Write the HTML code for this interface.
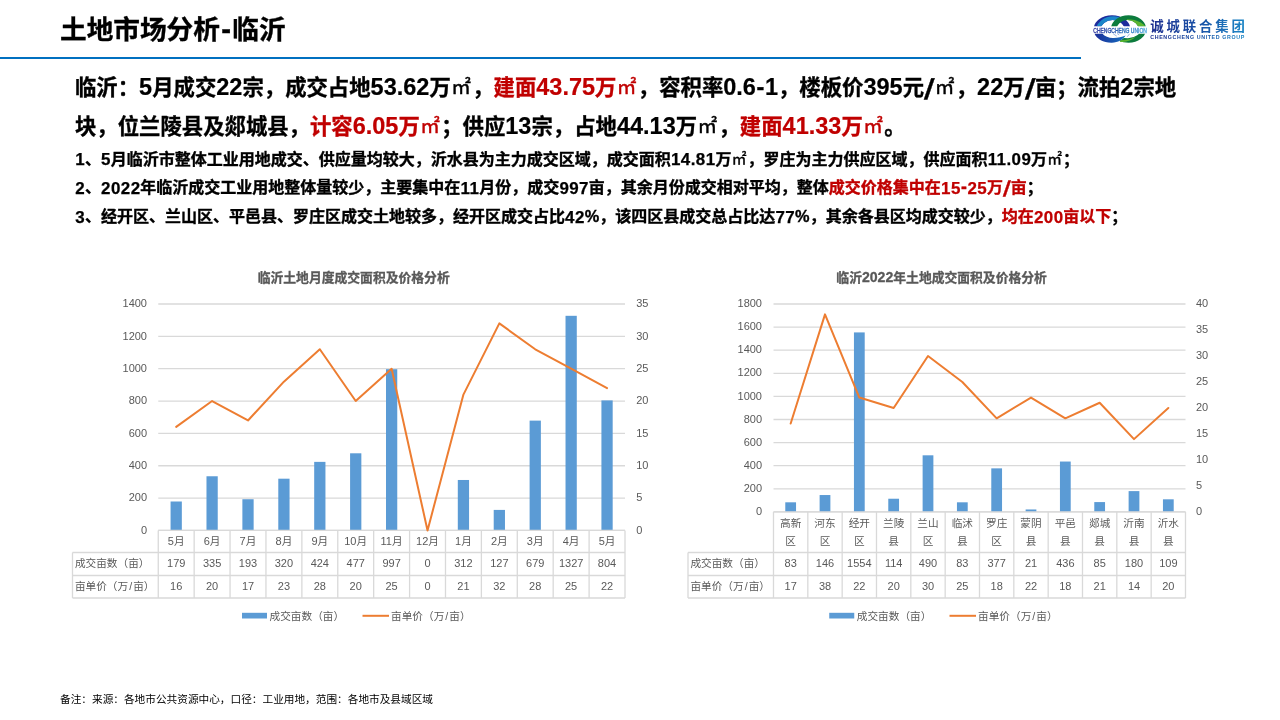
<!DOCTYPE html>
<html lang="zh-CN">
<head>
<meta charset="utf-8">
<title>土地市场分析-临沂</title>
<style>
html,body{margin:0;padding:0;background:#fff;}
body{width:1280px;height:720px;position:relative;overflow:hidden;font-family:"Liberation Sans", "Noto Sans CJK SC", sans-serif;color:#000;}
.abs{position:absolute;white-space:nowrap;}
#title{left:60px;top:9.6px;font-size:26.67px;font-weight:bold;line-height:40px;}
#rule{position:absolute;left:0;top:56.7px;width:1081px;height:2.1px;background:#0070c0;}
.big{left:75px;font-size:21.37px;font-weight:bold;line-height:30px;}
.sm{left:75px;font-size:16px;font-weight:bold;line-height:24px;}
.red{color:#c00000;}
.big,.sm,#title{-webkit-text-stroke:0.35px currentColor;}
.n,.h,.s{font-size:1.1em;line-height:0;}
.p{font-size:1.02em;line-height:0;margin:0 .004em;}
.sm .n{font-size:1.06em;letter-spacing:.026em;margin-left:.013em;margin-right:-.013em;-webkit-text-stroke:.25px currentColor;position:relative;top:.04em;}
.big .n{-webkit-text-stroke:.2px currentColor;}
.m{font-size:.92em;line-height:0;font-weight:normal;-webkit-text-stroke:0.45px currentColor;letter-spacing:.087em;position:relative;top:-.04em;left:.02em;}
.h{padding:0 .025em;}
#title .h{padding:0 .045em;}
.s{padding:0 .08em;display:inline-block;transform:translateY(.11em) skewX(-9deg) scale(1.2,1.22);}
#foot{left:60px;top:691px;font-size:10.67px;line-height:16px;}
svg{position:absolute;left:0;top:0;}
svg text{font-family:"Liberation Sans", "Noto Sans CJK SC", sans-serif;}
.g{stroke:#d9d9d9;stroke-width:1.3;}
.t{stroke:#d9d9d9;stroke-width:1.3;fill:none;}
.b{fill:#5b9bd5;}
.l{stroke:#ed7d31;stroke-width:2;fill:none;stroke-linejoin:round;stroke-linecap:round;}
.ax{font-size:10.67px;fill:#595959;}
.d{font-size:11px;}
.ti .d{font-size:14.1px;}
.ti{font-size:12.8px;font-weight:bold;fill:#595959;stroke:#595959;stroke-width:.3px;}
</style>
</head>
<body>
<div id="title" class="abs">土地市场分析<span class="h">-</span>临沂</div>
<div id="rule"></div>
<svg id="logo" width="170" height="40" viewBox="1088 8 170 40" style="left:1088px;top:8px">
<defs>
<linearGradient id="lg1" x1="0" x2="1" y1="0" y2="0"><stop offset="0" stop-color="#1c2c8e"/><stop offset="0.55" stop-color="#1a55a8"/><stop offset="1" stop-color="#1c86c6"/></linearGradient>
<linearGradient id="lg2" x1="0" x2="1" y1="0" y2="0"><stop offset="0" stop-color="#3338a0"/><stop offset="0.6" stop-color="#2a70bc"/><stop offset="1" stop-color="#4aa8e0"/></linearGradient>
<linearGradient id="lg3" x1="0" x2="1" y1="0" y2="0"><stop offset="0" stop-color="#1b2c98"/><stop offset="1" stop-color="#1670c0"/></linearGradient>
<clipPath id="cpT"><rect x="1088" y="8" width="70" height="18.2"/></clipPath>
<clipPath id="cpB"><rect x="1088" y="33.6" width="70" height="14"/></clipPath>
<clipPath id="cpL"><rect x="1088" y="8" width="31" height="18.2"/></clipPath>
<clipPath id="cpR"><rect x="1127" y="8" width="31" height="18.2"/></clipPath>
<clipPath id="cpG"><path d="M1119.6 48V40.6c2.4-.9 4.4-2.400 6-4.800L1126.600 33.600H1158V48Z"/></clipPath>
</defs>
<g clip-path="url(#cpT)">
<path fill="#1d2b9c" fill-rule="evenodd" d="M1093.700 29.300a18.300 14.100 0 1 0 36.600 0a18.300 14.100 0 1 0 -36.600 0Z M1100.600 30a12 10 0 1 0 24 0a12 10 0 1 0 -24 0Z"/>
<path fill="#1b86c9" fill-rule="evenodd" clip-path="url(#cpL)" d="M1096 30.600a17.600 14.300 0 1 0 35.200 0a17.600 14.300 0 1 0 -35.200 0Z M1100.600 30a12 10 0 1 0 24 0a12 10 0 1 0 -24 0Z"/>
<path fill="#0c7b3d" fill-rule="evenodd" d="M1110.900 29.300a17.600 14.100 0 1 0 35.200 0a17.600 14.100 0 1 0 -35.200 0Z M1116.400 30a11.200 10 0 1 0 22.400 0a11.200 10 0 1 0 -22.400 0Z"/>
<path fill="#5bb531" fill-rule="evenodd" clip-path="url(#cpR)" d="M1107.400 30.800a19.600 11.600 0 1 0 39.200 0a19.600 11.600 0 1 0 -39.200 0Z M1116.400 30a11.200 10 0 1 0 22.400 0a11.200 10 0 1 0 -22.400 0Z"/>
</g>
<g clip-path="url(#cpB)">
<g clip-path="url(#cpG)">
<path fill="#0c7b3d" fill-rule="evenodd" d="M1110.900 29.300a17.600 13.500 0 1 0 35.200 0a17.600 13.500 0 1 0 -35.200 0Z M1115 28.400a13 9.800 0 1 0 26 0a13 9.800 0 1 0 -26 0Z"/>
<path fill="#5bb531" d="M1119.600 40.200c5.400 0.400 11-0.800 16-3.400c-3.600 4-10 5.800-16 5Z"/>
</g>
<path fill="url(#lg3)" d="M1094.400 33.600h7.800c2.800 3.200 7 4.600 11.600 4.400c4.200-0.200 8.200-1 11.800-2.400c-2.600 4.200-7.400 7-13.800 7.200c-8 0.200-15-3.600-17.400-9.200Z"/>
</g>
<path d="M1113.200 33.800l3.600 2.400 M1117.200 33.600l2 1.400 M1129.600 33.800l-2.400 3" stroke="#5a86d0" stroke-width="0.6" fill="none"/>
<text x="1093.3" y="32.700" font-family="'Liberation Sans', sans-serif" font-weight="normal" stroke="url(#lg2)" stroke-width="0.35" font-size="6.800" fill="url(#lg2)" textLength="53.6" lengthAdjust="spacingAndGlyphs">CHENGCHENG UNION</text>
<text x="1150.200" y="30.700" font-family="'Liberation Sans', 'Noto Sans CJK SC', sans-serif" font-weight="bold" font-size="13.400" fill="url(#lg1)" textLength="94.8" lengthAdjust="spacing">诚城联合集团</text>
<text transform="translate(1150.3 39.1) scale(0.86 1)" font-family="'Liberation Sans', sans-serif" font-weight="bold" font-size="6.2" fill="url(#lg1)" textLength="109.2" lengthAdjust="spacing">CHENGCHENG UNITED GROUP</text>
</svg>

<div class="abs big" style="top:73px">临沂：<span class="n">5</span>月成交<span class="n">22</span>宗，成交占地<span class="n">53.62</span>万<span class="m">㎡</span>，<span class="red">建面<span class="n">43.75</span>万<span class="m">㎡</span></span>，容积率<span class="n">0.6</span><span class="h">-</span><span class="n">1</span>，楼板价<span class="n">395</span>元<span class="s">/</span><span class="m">㎡</span>，<span class="n">22</span>万<span class="s">/</span>亩；流拍<span class="n">2</span>宗地</div>
<div class="abs big" style="top:111.8px">块，位兰陵县及郯城县，<span class="red">计容<span class="n">6.05</span>万<span class="m">㎡</span></span>；供应<span class="n">13</span>宗，占地<span class="n">44.13</span>万<span class="m">㎡</span>，<span class="red">建面<span class="n">41.33</span>万<span class="m">㎡</span></span>。</div>
<div class="abs sm" style="top:147.5px"><span class="n">1</span>、<span class="n">5</span>月临沂市整体工业用地成交、供应量均较大，沂水县为主力成交区域，成交面积<span class="n">14.81</span>万<span class="m">㎡</span>，罗庄为主力供应区域，供应面积<span class="n">11.09</span>万<span class="m">㎡</span>；</div>
<div class="abs sm" style="top:176.2px"><span class="n">2</span>、<span class="n">2022</span>年临沂成交工业用地整体量较少，主要集中在<span class="n">11</span>月份，成交<span class="n">997</span>亩，其余月份成交相对平均，整体<span class="red">成交价格集中在<span class="n">15</span><span class="h">-</span><span class="n">25</span>万<span class="s">/</span>亩</span>；</div>
<div class="abs sm" style="top:205px"><span class="n">3</span>、经开区、兰山区、平邑县、罗庄区成交土地较多，经开区成交占比<span class="n">42</span><span class="p">%</span>，该四区县成交总占比达<span class="n">77</span><span class="p">%</span>，其余各县区均成交较少，<span class="red">均在<span class="n">200</span>亩以下</span>；</div>
<svg width="1280" height="720" viewBox="0 0 1280 720">
<line x1="158.25" y1="530.45" x2="625" y2="530.45" class="g"/>
<text x="147" y="534" class="ax d" text-anchor="end">0</text>
<line x1="158.25" y1="498.10" x2="625" y2="498.10" class="g"/>
<text x="147" y="501" class="ax d" text-anchor="end">200</text>
<line x1="158.25" y1="465.75" x2="625" y2="465.75" class="g"/>
<text x="147" y="469" class="ax d" text-anchor="end">400</text>
<line x1="158.25" y1="433.40" x2="625" y2="433.40" class="g"/>
<text x="147" y="437" class="ax d" text-anchor="end">600</text>
<line x1="158.25" y1="401.05" x2="625" y2="401.05" class="g"/>
<text x="147" y="404" class="ax d" text-anchor="end">800</text>
<line x1="158.25" y1="368.70" x2="625" y2="368.70" class="g"/>
<text x="147" y="372" class="ax d" text-anchor="end">1000</text>
<line x1="158.25" y1="336.35" x2="625" y2="336.35" class="g"/>
<text x="147" y="340" class="ax d" text-anchor="end">1200</text>
<line x1="158.25" y1="304.00" x2="625" y2="304.00" class="g"/>
<text x="147" y="307" class="ax d" text-anchor="end">1400</text>
<text x="636.25" y="534" class="ax d">0</text>
<text x="636.25" y="501" class="ax d">5</text>
<text x="636.25" y="469" class="ax d">10</text>
<text x="636.25" y="437" class="ax d">15</text>
<text x="636.25" y="404" class="ax d">20</text>
<text x="636.25" y="372" class="ax d">25</text>
<text x="636.25" y="340" class="ax d">30</text>
<text x="636.25" y="307" class="ax d">35</text>
<rect x="170.57" y="501.50" width="11.26" height="28.95" class="b"/>
<rect x="206.48" y="476.26" width="11.26" height="54.19" class="b"/>
<rect x="242.38" y="499.23" width="11.26" height="31.22" class="b"/>
<rect x="278.29" y="478.69" width="11.26" height="51.76" class="b"/>
<rect x="314.19" y="461.87" width="11.26" height="68.58" class="b"/>
<rect x="350.09" y="453.30" width="11.26" height="77.15" class="b"/>
<rect x="386.00" y="369.19" width="11.26" height="161.26" class="b"/>
<rect x="457.80" y="479.98" width="11.26" height="50.47" class="b"/>
<rect x="493.71" y="509.91" width="11.26" height="20.54" class="b"/>
<rect x="529.61" y="420.62" width="11.26" height="109.83" class="b"/>
<rect x="565.52" y="315.81" width="11.26" height="214.64" class="b"/>
<rect x="601.42" y="400.40" width="11.26" height="130.05" class="b"/>
<path class="t" d="M158.25 530.45H625 M72.5 552.5H625 M72.5 575.5H625 M72.5 598H625 M72.5 552.5V598"/>
<path class="t" d="M158.25 530.45V598 M194.15 530.45V598 M230.06 530.45V598 M265.96 530.45V598 M301.87 530.45V598 M337.77 530.45V598 M373.67 530.45V598 M409.58 530.45V598 M445.48 530.45V598 M481.38 530.45V598 M517.29 530.45V598 M553.19 530.45V598 M589.10 530.45V598 M625.00 530.45V598"/>
<polyline points="176.20,426.93 212.11,401.05 248.01,420.46 283.91,381.64 319.82,349.29 355.72,401.05 391.62,368.70 427.53,530.45 463.43,394.58 499.34,323.41 535.24,349.29 571.14,368.70 607.05,388.11" class="l"/>
<text x="176.20" y="545.05" class="ax" text-anchor="middle"><tspan class="d">5</tspan>月</text>
<text x="176.20" y="567.00" class="ax d" text-anchor="middle">179</text>
<text x="176.20" y="589.90" class="ax d" text-anchor="middle">16</text>
<text x="212.11" y="545.05" class="ax" text-anchor="middle"><tspan class="d">6</tspan>月</text>
<text x="212.11" y="567.00" class="ax d" text-anchor="middle">335</text>
<text x="212.11" y="589.90" class="ax d" text-anchor="middle">20</text>
<text x="248.01" y="545.05" class="ax" text-anchor="middle"><tspan class="d">7</tspan>月</text>
<text x="248.01" y="567.00" class="ax d" text-anchor="middle">193</text>
<text x="248.01" y="589.90" class="ax d" text-anchor="middle">17</text>
<text x="283.91" y="545.05" class="ax" text-anchor="middle"><tspan class="d">8</tspan>月</text>
<text x="283.91" y="567.00" class="ax d" text-anchor="middle">320</text>
<text x="283.91" y="589.90" class="ax d" text-anchor="middle">23</text>
<text x="319.82" y="545.05" class="ax" text-anchor="middle"><tspan class="d">9</tspan>月</text>
<text x="319.82" y="567.00" class="ax d" text-anchor="middle">424</text>
<text x="319.82" y="589.90" class="ax d" text-anchor="middle">28</text>
<text x="355.72" y="545.05" class="ax" text-anchor="middle"><tspan class="d">10</tspan>月</text>
<text x="355.72" y="567.00" class="ax d" text-anchor="middle">477</text>
<text x="355.72" y="589.90" class="ax d" text-anchor="middle">20</text>
<text x="391.62" y="545.05" class="ax" text-anchor="middle"><tspan class="d">11</tspan>月</text>
<text x="391.62" y="567.00" class="ax d" text-anchor="middle">997</text>
<text x="391.62" y="589.90" class="ax d" text-anchor="middle">25</text>
<text x="427.53" y="545.05" class="ax" text-anchor="middle"><tspan class="d">12</tspan>月</text>
<text x="427.53" y="567.00" class="ax d" text-anchor="middle">0</text>
<text x="427.53" y="589.90" class="ax d" text-anchor="middle">0</text>
<text x="463.43" y="545.05" class="ax" text-anchor="middle"><tspan class="d">1</tspan>月</text>
<text x="463.43" y="567.00" class="ax d" text-anchor="middle">312</text>
<text x="463.43" y="589.90" class="ax d" text-anchor="middle">21</text>
<text x="499.34" y="545.05" class="ax" text-anchor="middle"><tspan class="d">2</tspan>月</text>
<text x="499.34" y="567.00" class="ax d" text-anchor="middle">127</text>
<text x="499.34" y="589.90" class="ax d" text-anchor="middle">32</text>
<text x="535.24" y="545.05" class="ax" text-anchor="middle"><tspan class="d">3</tspan>月</text>
<text x="535.24" y="567.00" class="ax d" text-anchor="middle">679</text>
<text x="535.24" y="589.90" class="ax d" text-anchor="middle">28</text>
<text x="571.14" y="545.05" class="ax" text-anchor="middle"><tspan class="d">4</tspan>月</text>
<text x="571.14" y="567.00" class="ax d" text-anchor="middle">1327</text>
<text x="571.14" y="589.90" class="ax d" text-anchor="middle">25</text>
<text x="607.05" y="545.05" class="ax" text-anchor="middle"><tspan class="d">5</tspan>月</text>
<text x="607.05" y="567.00" class="ax d" text-anchor="middle">804</text>
<text x="607.05" y="589.90" class="ax d" text-anchor="middle">22</text>
<text x="74.9" y="566.90" class="ax">成交亩数（亩）</text>
<text x="74.9" y="589.90" class="ax">亩单价（万<tspan dx="1">/</tspan><tspan dx="1">亩</tspan>）</text>
<text x="353.7" y="282" class="ti" text-anchor="middle">临沂土地月度成交面积及价格分析</text>
<rect x="242" y="612.8" width="25" height="5.7" class="b"/>
<text x="269.5" y="619.9" class="ax">成交亩数（亩）</text>
<line x1="362.5" y1="615.8" x2="389.0" y2="615.8" class="l" style="stroke-linecap:butt"/>
<text x="391.0" y="619.9" class="ax">亩单价（万<tspan dx="1">/</tspan><tspan dx="1">亩</tspan>）</text>
<line x1="773.5" y1="511.90" x2="1185.5" y2="511.90" class="g"/>
<text x="762" y="515" class="ax d" text-anchor="end">0</text>
<line x1="773.5" y1="488.80" x2="1185.5" y2="488.80" class="g"/>
<text x="762" y="492" class="ax d" text-anchor="end">200</text>
<line x1="773.5" y1="465.70" x2="1185.5" y2="465.70" class="g"/>
<text x="762" y="469" class="ax d" text-anchor="end">400</text>
<line x1="773.5" y1="442.60" x2="1185.5" y2="442.60" class="g"/>
<text x="762" y="446" class="ax d" text-anchor="end">600</text>
<line x1="773.5" y1="419.50" x2="1185.5" y2="419.50" class="g"/>
<text x="762" y="423" class="ax d" text-anchor="end">800</text>
<line x1="773.5" y1="396.40" x2="1185.5" y2="396.40" class="g"/>
<text x="762" y="400" class="ax d" text-anchor="end">1000</text>
<line x1="773.5" y1="373.30" x2="1185.5" y2="373.30" class="g"/>
<text x="762" y="376" class="ax d" text-anchor="end">1200</text>
<line x1="773.5" y1="350.20" x2="1185.5" y2="350.20" class="g"/>
<text x="762" y="353" class="ax d" text-anchor="end">1400</text>
<line x1="773.5" y1="327.10" x2="1185.5" y2="327.10" class="g"/>
<text x="762" y="330" class="ax d" text-anchor="end">1600</text>
<line x1="773.5" y1="304.00" x2="1185.5" y2="304.00" class="g"/>
<text x="762" y="307" class="ax d" text-anchor="end">1800</text>
<text x="1196" y="515" class="ax d">0</text>
<text x="1196" y="489" class="ax d">5</text>
<text x="1196" y="463" class="ax d">10</text>
<text x="1196" y="437" class="ax d">15</text>
<text x="1196" y="411" class="ax d">20</text>
<text x="1196" y="385" class="ax d">25</text>
<text x="1196" y="359" class="ax d">30</text>
<text x="1196" y="333" class="ax d">35</text>
<text x="1196" y="307" class="ax d">40</text>
<rect x="785.28" y="502.31" width="10.76" height="9.59" class="b"/>
<rect x="819.62" y="495.04" width="10.76" height="16.86" class="b"/>
<rect x="853.95" y="332.41" width="10.76" height="179.49" class="b"/>
<rect x="888.28" y="498.73" width="10.76" height="13.17" class="b"/>
<rect x="922.62" y="455.31" width="10.76" height="56.59" class="b"/>
<rect x="956.95" y="502.31" width="10.76" height="9.59" class="b"/>
<rect x="991.28" y="468.36" width="10.76" height="43.54" class="b"/>
<rect x="1025.62" y="509.47" width="10.76" height="2.43" class="b"/>
<rect x="1059.95" y="461.54" width="10.76" height="50.36" class="b"/>
<rect x="1094.28" y="502.08" width="10.76" height="9.82" class="b"/>
<rect x="1128.62" y="491.11" width="10.76" height="20.79" class="b"/>
<rect x="1162.95" y="499.31" width="10.76" height="12.59" class="b"/>
<path class="t" d="M773.5 511.9H1185.5 M688 552.5H1185.5 M688 575.5H1185.5 M688 598H1185.5 M688 552.5V598"/>
<path class="t" d="M773.50 511.9V598 M807.83 511.9V598 M842.17 511.9V598 M876.50 511.9V598 M910.83 511.9V598 M945.17 511.9V598 M979.50 511.9V598 M1013.83 511.9V598 M1048.17 511.9V598 M1082.50 511.9V598 M1116.83 511.9V598 M1151.17 511.9V598 M1185.50 511.9V598"/>
<polyline points="790.67,423.54 825.00,314.39 859.33,397.56 893.67,407.95 928.00,355.98 962.33,381.96 996.67,418.34 1031.00,397.56 1065.33,418.34 1099.67,402.75 1134.00,439.13 1168.33,407.95" class="l"/>
<text x="790.67" y="526.50" class="ax" text-anchor="middle">高新</text>
<text x="790.67" y="545.20" class="ax" text-anchor="middle">区</text>
<text x="790.67" y="567.00" class="ax d" text-anchor="middle">83</text>
<text x="790.67" y="589.90" class="ax d" text-anchor="middle">17</text>
<text x="825.00" y="526.50" class="ax" text-anchor="middle">河东</text>
<text x="825.00" y="545.20" class="ax" text-anchor="middle">区</text>
<text x="825.00" y="567.00" class="ax d" text-anchor="middle">146</text>
<text x="825.00" y="589.90" class="ax d" text-anchor="middle">38</text>
<text x="859.33" y="526.50" class="ax" text-anchor="middle">经开</text>
<text x="859.33" y="545.20" class="ax" text-anchor="middle">区</text>
<text x="859.33" y="567.00" class="ax d" text-anchor="middle">1554</text>
<text x="859.33" y="589.90" class="ax d" text-anchor="middle">22</text>
<text x="893.67" y="526.50" class="ax" text-anchor="middle">兰陵</text>
<text x="893.67" y="545.20" class="ax" text-anchor="middle">县</text>
<text x="893.67" y="567.00" class="ax d" text-anchor="middle">114</text>
<text x="893.67" y="589.90" class="ax d" text-anchor="middle">20</text>
<text x="928.00" y="526.50" class="ax" text-anchor="middle">兰山</text>
<text x="928.00" y="545.20" class="ax" text-anchor="middle">区</text>
<text x="928.00" y="567.00" class="ax d" text-anchor="middle">490</text>
<text x="928.00" y="589.90" class="ax d" text-anchor="middle">30</text>
<text x="962.33" y="526.50" class="ax" text-anchor="middle">临沭</text>
<text x="962.33" y="545.20" class="ax" text-anchor="middle">县</text>
<text x="962.33" y="567.00" class="ax d" text-anchor="middle">83</text>
<text x="962.33" y="589.90" class="ax d" text-anchor="middle">25</text>
<text x="996.67" y="526.50" class="ax" text-anchor="middle">罗庄</text>
<text x="996.67" y="545.20" class="ax" text-anchor="middle">区</text>
<text x="996.67" y="567.00" class="ax d" text-anchor="middle">377</text>
<text x="996.67" y="589.90" class="ax d" text-anchor="middle">18</text>
<text x="1031.00" y="526.50" class="ax" text-anchor="middle">蒙阴</text>
<text x="1031.00" y="545.20" class="ax" text-anchor="middle">县</text>
<text x="1031.00" y="567.00" class="ax d" text-anchor="middle">21</text>
<text x="1031.00" y="589.90" class="ax d" text-anchor="middle">22</text>
<text x="1065.33" y="526.50" class="ax" text-anchor="middle">平邑</text>
<text x="1065.33" y="545.20" class="ax" text-anchor="middle">县</text>
<text x="1065.33" y="567.00" class="ax d" text-anchor="middle">436</text>
<text x="1065.33" y="589.90" class="ax d" text-anchor="middle">18</text>
<text x="1099.67" y="526.50" class="ax" text-anchor="middle">郯城</text>
<text x="1099.67" y="545.20" class="ax" text-anchor="middle">县</text>
<text x="1099.67" y="567.00" class="ax d" text-anchor="middle">85</text>
<text x="1099.67" y="589.90" class="ax d" text-anchor="middle">21</text>
<text x="1134.00" y="526.50" class="ax" text-anchor="middle">沂南</text>
<text x="1134.00" y="545.20" class="ax" text-anchor="middle">县</text>
<text x="1134.00" y="567.00" class="ax d" text-anchor="middle">180</text>
<text x="1134.00" y="589.90" class="ax d" text-anchor="middle">14</text>
<text x="1168.33" y="526.50" class="ax" text-anchor="middle">沂水</text>
<text x="1168.33" y="545.20" class="ax" text-anchor="middle">县</text>
<text x="1168.33" y="567.00" class="ax d" text-anchor="middle">109</text>
<text x="1168.33" y="589.90" class="ax d" text-anchor="middle">20</text>
<text x="690.4" y="566.90" class="ax">成交亩数（亩）</text>
<text x="690.4" y="589.90" class="ax">亩单价（万<tspan dx="1">/</tspan><tspan dx="1">亩</tspan>）</text>
<text x="941.6" y="282" class="ti" text-anchor="middle">临沂<tspan class="d">2022</tspan>年土地成交面积及价格分析</text>
<rect x="829.25" y="612.8" width="25" height="5.7" class="b"/>
<text x="856.75" y="619.9" class="ax">成交亩数（亩）</text>
<line x1="949.5" y1="615.8" x2="976.0" y2="615.8" class="l" style="stroke-linecap:butt"/>
<text x="978.0" y="619.9" class="ax">亩单价（万<tspan dx="1">/</tspan><tspan dx="1">亩</tspan>）</text>
</svg>
<div id="foot" class="abs">备注：来源：各地市公共资源中心，口径：工业用地，范围：各地市及县域区域</div>
</body>
</html>
